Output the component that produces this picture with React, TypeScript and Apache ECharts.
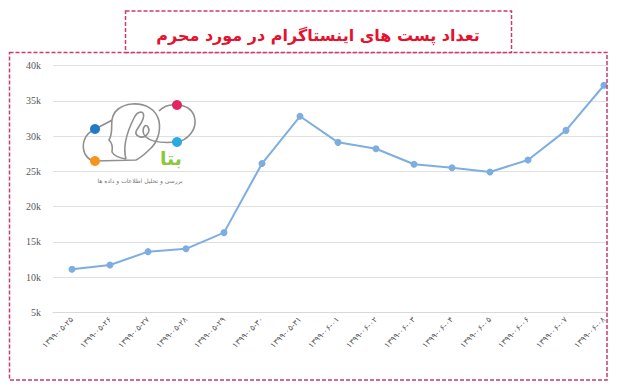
import React, { useEffect, useRef } from "react";
import * as echarts from "echarts";

const categories = [
  "۱۳۹۹-۰۵-۲۵",
  "۱۳۹۹-۰۵-۲۶",
  "۱۳۹۹-۰۵-۲۷",
  "۱۳۹۹-۰۵-۲۸",
  "۱۳۹۹-۰۵-۲۹",
  "۱۳۹۹-۰۵-۳۰",
  "۱۳۹۹-۰۵-۳۱",
  "۱۳۹۹-۰۶-۰۱",
  "۱۳۹۹-۰۶-۰۲",
  "۱۳۹۹-۰۶-۰۳",
  "۱۳۹۹-۰۶-۰۴",
  "۱۳۹۹-۰۶-۰۵",
  "۱۳۹۹-۰۶-۰۶",
  "۱۳۹۹-۰۶-۰۷",
  "۱۳۹۹-۰۶-۰۸",
];

const postCounts = [
  11100, 11700, 13600, 14000, 16300, 26100, 32800, 29100, 28200, 26000, 25500,
  24900, 26600, 30800, 37200,
];

const yMin = 5000;
const yMax = 40000;
const yInterval = 5000;

const titleText = "تعداد پست های اینستاگرام در مورد محرم";
const logoName = "بتا";
const logoSubtitle = "بررسی و تحلیل اطلاعات و داده ها";

const headPath =
  "M95 129 C101 126 107 123 112 120 C113 111 121 105 132 104 C145 103 156 109 159 121 C161 132 157 143 150 149 C145 154 140 158 136 160 L95 161 " +
  "M95 129 C84 134 81 145 85 154 C88 159 92 161 95 161 " +
  "M112 120 C111 128 113 133 109 140 C112 143 113 147 112 152 C114 156 120 158 126 159 " +
  "M126 159 C122 145 128 130 134 118 C138 110 146 110 143 119 C140 128 132 132 138 136 C145 140 151 132 148 127 C145 122 140 131 146 137 C152 143 165 143 177 142 " +
  "M177 142 C188 140 196 130 195 120 C194 110 186 105 177 105 " +
  "M177 105 C170 104 164 106 159 111";

let registered = false;
function ensureShape() {
  if (registered) return;
  try {
    echarts.graphic.registerShape("betaHead", echarts.graphic.extendPath(headPath, {}) as any);
  } catch (e) {}
  registered = true;
}

export default function App() {
  const ref = useRef<HTMLDivElement>(null);

  useEffect(() => {
    if (!ref.current) return;
    ensureShape();
    const chart = echarts.init(ref.current, undefined, { renderer: "svg" });
    const borderColor = "#cc3a6e";
    chart.setOption({
      animation: false,
      backgroundColor: "#ffffff",
      grid: {
        left: 53,
        right: -6,
        top: 65.5,
        bottom: 76.7,
        outerBoundsMode: "none",
        containLabel: false,
      } as any,
      xAxis: {
        type: "category",
        data: categories,
        boundaryGap: true,
        axisLine: { show: true, lineStyle: { color: "#d9d9d9", width: 1 } },
        axisTick: { show: false },
        axisLabel: {
          interval: 0,
          rotate: 45,
          fontSize: 8,
          color: "#595959",
          margin: 6,
          fontFamily: "DejaVu Sans",
        },
        splitLine: { show: false },
      },
      yAxis: {
        type: "value",
        min: yMin,
        max: yMax,
        interval: yInterval,
        axisLine: { show: false },
        axisTick: { show: false },
        axisLabel: {
          fontSize: 10,
          color: "#595959",
          margin: 12,
          fontFamily: "Liberation Serif",
          formatter: (v: number) => v / 1000 + "k",
        },
        splitLine: { show: true, lineStyle: { color: "#e0e0e0", width: 1 } },
      },
      series: [
        {
          type: "line",
          data: postCounts,
          symbol: "circle",
          symbolSize: 7,
          lineStyle: { color: "#7eaee0", width: 2 },
          itemStyle: { color: "#7eaee0" },
          clip: false,
        },
      ],
      graphic: [
        {
          type: "rect",
          z: 100,
          shape: { x: 608, y: 0, width: 20, height: 389 },
          style: { fill: "#ffffff" },
        },
        {
          type: "betaHead",
          z: 50,
          x: 0,
          y: 0,
          style: { fill: "none", stroke: "#909090", lineWidth: 1.6 },
        } as any,
        { type: "circle", z: 51, shape: { cx: 95, cy: 129, r: 5 }, style: { fill: "#1f7bc6" } },
        { type: "circle", z: 51, shape: { cx: 95, cy: 161, r: 5 }, style: { fill: "#f7941d" } },
        { type: "circle", z: 51, shape: { cx: 177, cy: 105, r: 5 }, style: { fill: "#e2245f" } },
        { type: "circle", z: 51, shape: { cx: 177, cy: 142, r: 5 }, style: { fill: "#29abe2" } },
        {
          type: "text",
          z: 51,
          x: 171,
          y: 158,
          style: {
            text: logoName,
            fill: "#8dc63f",
            font: "bold 19px 'DejaVu Sans'",
            textAlign: "center",
            textVerticalAlign: "middle",
          },
        },
        {
          type: "text",
          z: 51,
          x: 140,
          y: 180,
          style: {
            text: logoSubtitle,
            fill: "#7a7a7a",
            font: "6px 'DejaVu Sans'",
            textAlign: "center",
            textVerticalAlign: "middle",
          },
        },
        {
          type: "rect",
          z: 101,
          shape: { x: 9.5, y: 52.5, width: 597.5, height: 327.5 },
          style: { fill: "none", stroke: borderColor, lineWidth: 1.5, lineDash: [4, 2] },
        },
        {
          type: "rect",
          z: 101,
          shape: { x: 125.5, y: 11, width: 386, height: 41.5 },
          style: { fill: "#ffffff", stroke: borderColor, lineWidth: 1.5, lineDash: [4, 2] },
        },
        {
          type: "text",
          z: 102,
          x: 318,
          y: 35,
          style: {
            text: titleText,
            fill: "#e8112d",
            font: "bold 16px 'DejaVu Sans'",
            textAlign: "center",
            textVerticalAlign: "middle",
          },
        },
      ],
    });
    return () => chart.dispose();
  }, []);

  return (
    <div
      ref={ref}
      style={{ position: "absolute", left: 0, top: 0, width: 617, height: 389, background: "#fff" }}
    />
  );
}
